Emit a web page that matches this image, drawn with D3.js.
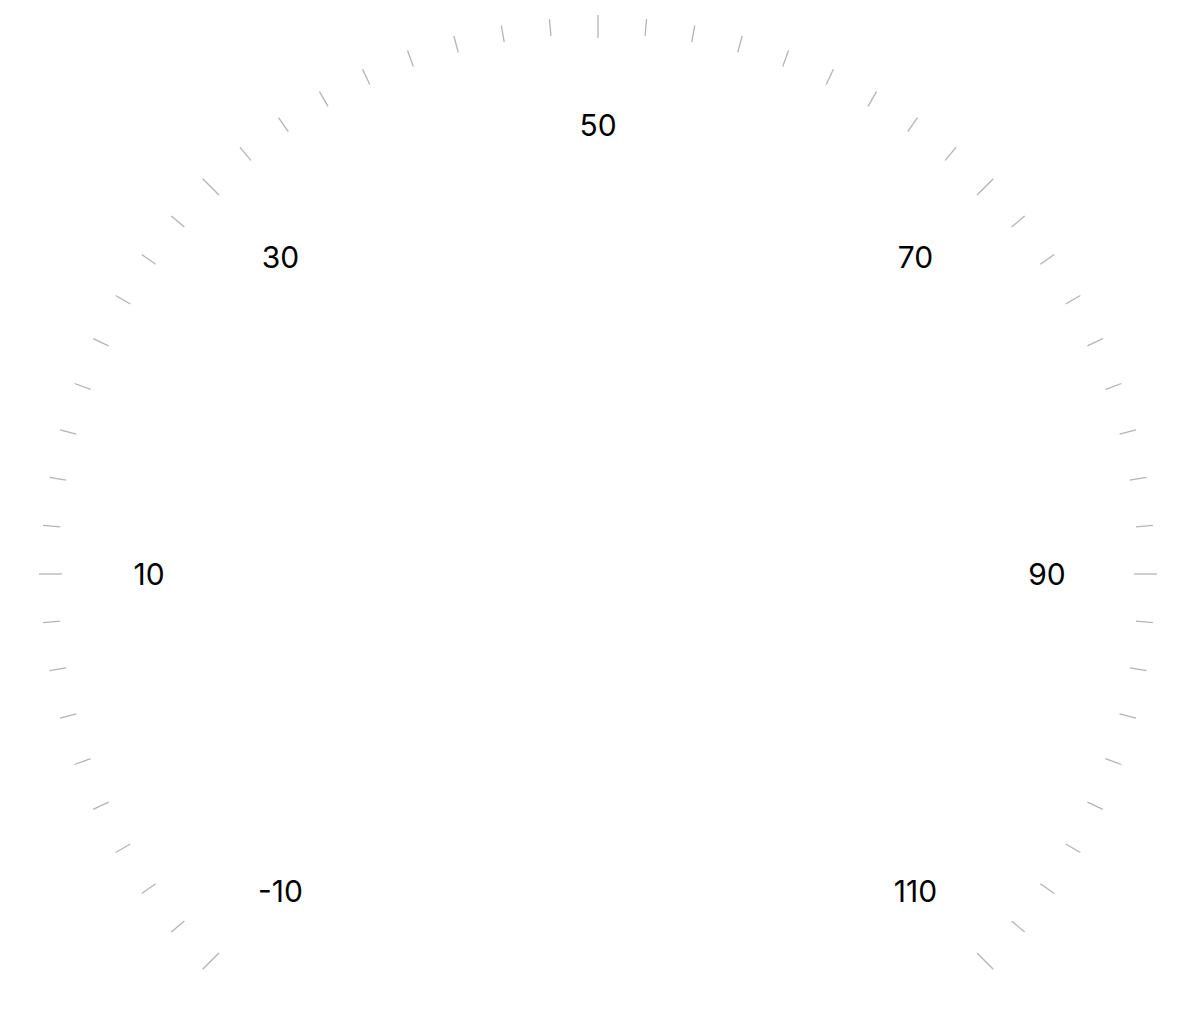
<!DOCTYPE html>
<html><head><meta charset="utf-8">
<script src="https://cdn.jsdelivr.net/npm/d3@7"></script>
<style>html,body{margin:0;padding:0;background:#fff;}svg{display:block;}</style>
</head><body>
<script>
const tickLabels = [-10, 10, 30, 50, 70, 90, 110];
const domainMin = -10, domainMax = 110;
const minorPerMajor = 9;

const W = 1180, H = 1018;
const cx = 598, cy = 574;
const svg = d3.select("body").append("svg").attr("width", W).attr("height", H);
const g = svg.append("g").attr("transform", `translate(${cx},${cy})`);
const angle = d3.scaleLinear().domain([domainMin, domainMax]).range([-135, 135]);

const majorStep = tickLabels[1] - tickLabels[0];
const minorStep = majorStep / minorPerMajor;
const nTicks = Math.round((domainMax - domainMin) / minorStep);
const ticks = d3.range(nTicks + 1).map(i => ({v: domainMin + i * minorStep, major: i % minorPerMajor === 0}));

const rad = d => (angle(d) - 90) * Math.PI / 180;
g.selectAll("line.tick").data(ticks).join("line")
  .attr("class", "tick")
  .attr("x1", d => Math.cos(rad(d.v)) * (d.major ? 536 : 540))
  .attr("y1", d => Math.sin(rad(d.v)) * (d.major ? 536 : 540))
  .attr("x2", d => Math.cos(rad(d.v)) * (d.major ? 559 : 557))
  .attr("y2", d => Math.sin(rad(d.v)) * (d.major ? 559 : 557))
  .attr("stroke", "#b4b4b4").attr("stroke-width", 1.3);

g.selectAll("text.lbl").data(tickLabels).join("text")
  .attr("class", "lbl")
  .attr("x", d => Math.cos(rad(d)) * 449)
  .attr("y", d => Math.sin(rad(d)) * 449)
  .attr("text-anchor", "middle").attr("dominant-baseline", "central")
  .attr("font-family", "Inter, 'Noto Sans', sans-serif").attr("font-size", 30)
  .attr("fill", "#000")
  .text(d => d);
</script>
</body></html>
